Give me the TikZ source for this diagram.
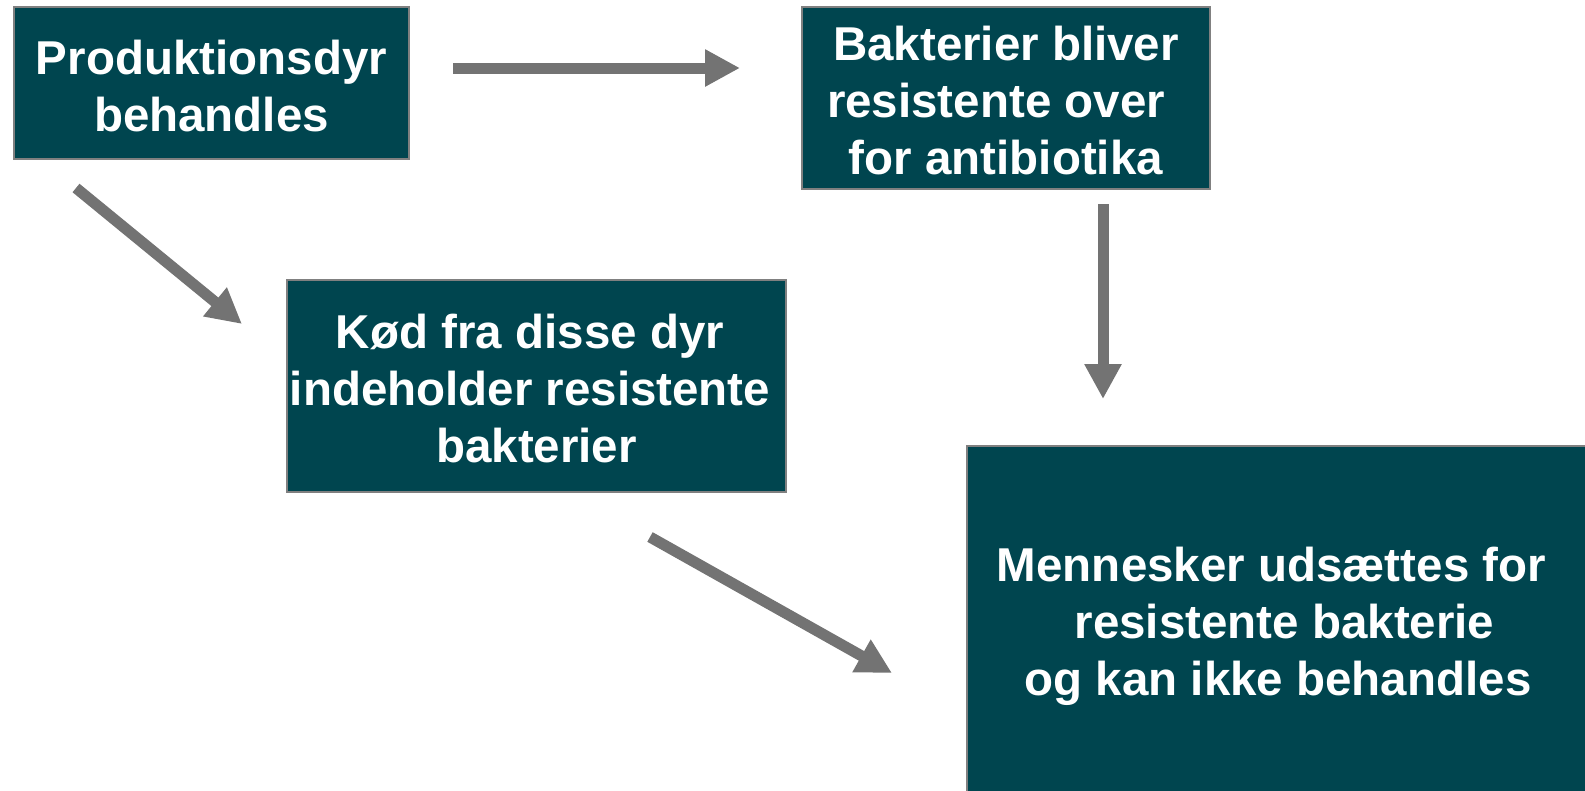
\documentclass[tikz,border=0pt]{standalone}
\usepackage{fontspec}
\setmainfont{Liberation Sans}
\usetikzlibrary{arrows.meta}
\definecolor{boxteal}{RGB}{0,69,79}
\definecolor{boxedge}{RGB}{128,128,128}
\definecolor{arrgray}{RGB}{115,115,115}
\tikzset{
  stepbox/.style={rectangle, fill=boxteal, draw=boxedge, line width=1.5pt,
    inner sep=0pt, align=center, text=white,
    font=\fontsize{47.5}{57}\selectfont\bfseries},
  flowarrow/.style={draw=arrgray, line width=11pt,
    -{Triangle[width=35pt,length=35pt,fill=arrgray]}}
}
\begin{document}
\begin{tikzpicture}[x=1pt,y=-1pt]
\useasboundingbox (0,0) rectangle (1585,790);
\begin{scope}
\clip (0,0) rectangle (1585,790);
\node[stepbox, minimum width=395pt, minimum height=152pt] (p) at (211.5,83)
  {\rule{0pt}{40pt}Produktionsdyr\\behandles};
\node[stepbox, minimum width=408pt, minimum height=182pt] (b) at (1006,98)
  {\rule{0pt}{40pt}Bakterier bliver\\resistente over\hspace*{20pt}\mbox{}\\for antibiotika};
\node[stepbox, minimum width=499pt, minimum height=212pt] (k) at (536.5,386)
  {\rule{0pt}{40pt}Kød fra disse dyr\hspace*{13pt}\mbox{}\\indeholder resistente\hspace*{13pt}\mbox{}\\bakterier};
\node[stepbox, minimum width=622pt, minimum height=356pt] (m) at (1278,624)
  {\rule{0pt}{40pt}Mennesker udsættes for\hspace*{13pt}\mbox{}\\\hspace*{13pt}resistente bakterie\\og kan ikke behandles};
\end{scope}
\coordinate (a1s) at (453,68);
\coordinate (a1e) at (740,68);
\coordinate (a2s) at (76,188);
\coordinate (a2e) at (242,324);
\coordinate (a3s) at (1103,204);
\coordinate (a3e) at (1103,399);
\coordinate (a4s) at (650,537);
\coordinate (a4e) at (892,673);
\draw[flowarrow] (a1s) -- (a1e);
\draw[flowarrow] (a2s) -- (a2e);
\draw[flowarrow] (a3s) -- (a3e);
\draw[flowarrow] (a4s) -- (a4e);
\end{tikzpicture}
\end{document}
